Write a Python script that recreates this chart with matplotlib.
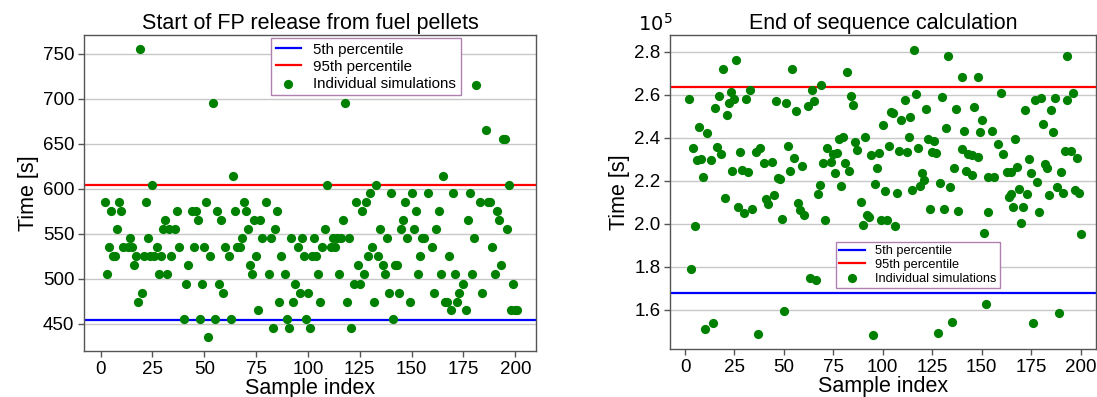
import matplotlib
matplotlib.use("Agg")
import matplotlib.pyplot as plt
from matplotlib.ticker import FuncFormatter, MultipleLocator

plt.rcParams['font.family'] = ['Liberation Sans', 'DejaVu Sans']

# ---------------- data: left panel (start of FP release, s) ----------------
fp_idx = [2, 3, 4, 5, 6, 7, 8, 9, 10, 11, 13, 14, 15, 16, 17, 18, 19, 20, 21, 22,
          23, 24, 25, 26, 27, 28, 29, 30, 31, 32, 33, 34, 36, 37, 38, 40, 41, 42, 44, 45,
          46, 47, 48, 49, 50, 51, 52, 53, 54, 55, 56, 57, 58, 59, 60, 62, 63, 64, 65, 66,
          67, 68, 69, 70, 71, 72, 73, 74, 75, 76, 77, 78, 80, 81, 82, 83, 84, 85, 86, 87,
          89, 90, 91, 92, 93, 94, 95, 96, 97, 98, 99, 100, 101, 102, 103, 104, 105, 106, 107, 108,
          109, 111, 112, 113, 114, 115, 116, 117, 118, 119, 120, 121, 122, 123, 124, 125, 126, 127, 128, 129,
          130, 131, 132, 133, 134, 135, 136, 137, 138, 139, 140, 141, 142, 143, 144, 145, 146, 147, 148, 149,
          150, 151, 152, 153, 154, 155, 156, 158, 160, 161, 162, 163, 164, 165, 166, 167, 168, 169, 170, 171,
          172, 173, 175, 176, 177, 178, 179, 180, 181, 183, 184, 186, 187, 188, 189, 190, 191, 192, 193, 194,
          195, 196, 197, 198, 199, 200, 201]
fp_time = [585, 505, 535, 575, 525, 525, 555, 585, 575, 535, 535, 545, 535, 515, 525, 474, 755, 484, 525, 585,
           545, 525, 604, 525, 535, 505, 525, 555, 565, 505, 555, 525, 555, 575, 535, 455, 494, 515, 575, 535,
           575, 565, 455, 494, 535, 585, 435, 525, 695, 455, 575, 494, 565, 484, 535, 525, 455, 614, 575, 535,
           535, 545, 585, 575, 555, 515, 505, 565, 525, 465, 565, 545, 585, 505, 545, 445, 555, 575, 474, 525,
           505, 455, 445, 545, 474, 494, 535, 484, 545, 525, 455, 484, 445, 525, 545, 525, 505, 474, 535, 555,
           604, 535, 545, 535, 545, 505, 545, 565, 695, 474, 545, 445, 494, 585, 515, 494, 575, 505, 585, 525,
           595, 535, 474, 604, 525, 555, 515, 505, 545, 484, 595, 455, 515, 515, 484, 555, 565, 585, 545, 474,
           595, 555, 575, 505, 525, 545, 545, 595, 535, 484, 555, 575, 505, 614, 474, 474, 525, 465, 595, 505,
           474, 484, 494, 465, 565, 595, 505, 545, 715, 585, 484, 665, 585, 585, 535, 505, 575, 565, 515, 655,
           655, 555, 604, 465, 494, 465, 465]
fp_p5 = 454.5
fp_p95 = 604.5

# ---------------- data: right panel (end of sequence calculation, s) ----------------
end_idx = [2, 3, 4, 5, 6, 7, 8, 9, 10, 11, 13, 14, 15, 16, 17, 18, 19, 20, 21, 22,
           23, 24, 25, 26, 27, 28, 29, 30, 31, 32, 33, 34, 36, 37, 38, 40, 41, 42, 44, 45,
           46, 47, 48, 49, 50, 51, 52, 53, 54, 55, 56, 57, 58, 59, 60, 62, 63, 64, 65, 66,
           67, 68, 69, 70, 71, 72, 74, 75, 76, 77, 78, 79, 80, 81, 82, 83, 84, 85, 86, 87,
           89, 90, 91, 92, 93, 94, 95, 96, 97, 98, 99, 100, 101, 102, 103, 104, 105, 106, 107, 108,
           109, 111, 112, 113, 114, 115, 116, 117, 118, 119, 120, 121, 122, 123, 124, 125, 126, 127, 128, 129,
           130, 131, 132, 133, 134, 135, 136, 137, 138, 140, 140, 141, 142, 143, 145, 145, 146, 148, 148, 149,
           150, 151, 152, 153, 153, 155, 156, 158, 160, 161, 163, 164, 165, 165, 166, 167, 168, 169, 170, 171,
           172, 173, 174, 175, 176, 177, 178, 179, 180, 181, 182, 183, 184, 185, 186, 187, 188, 189, 190, 191,
           192, 193, 193, 195, 196, 197, 198, 199, 200]
end_time = [2.580, 1.792, 2.351, 1.992, 2.296, 2.452, 2.300, 2.218, 1.510, 2.421, 2.296, 1.538, 2.539, 2.359, 2.596, 2.325, 2.720, 2.122, 2.507, 2.562,
            2.613, 2.246, 2.580, 2.761, 2.080, 2.333, 2.251, 2.052, 2.580, 2.243, 2.624, 2.068, 2.336, 1.487, 2.354, 2.284, 2.114, 2.093, 2.289, 2.136,
            2.572, 2.215, 2.209, 2.022, 1.597, 2.562, 2.362, 2.246, 2.720, 2.308, 2.525, 2.096, 2.065, 2.269, 2.040, 2.549, 1.749, 2.622, 2.572, 1.741,
            2.140, 2.181, 2.645, 2.282, 2.018, 2.351, 2.289, 2.326, 2.235, 2.331, 2.393, 2.176, 2.405, 2.284, 2.704, 2.246, 2.594, 2.552, 2.379, 2.343,
            2.103, 1.996, 2.402, 2.040, 2.034, 2.320, 1.485, 2.184, 2.261, 2.331, 2.019, 2.460, 2.154, 2.017, 2.363, 2.521, 2.517, 1.992, 2.142, 2.339,
            2.481, 2.576, 2.336, 2.405, 2.495, 2.158, 2.808, 2.605, 2.353, 2.176, 2.238, 2.204, 2.534, 2.394, 2.071, 2.333, 2.387, 2.328, 1.495, 2.190,
            2.591, 2.071, 2.444, 2.779, 2.172, 1.546, 2.261, 2.534, 2.060, 2.348, 2.683, 2.433, 2.247, 2.325, 2.319, 2.227, 2.545, 2.311, 2.683, 2.426,
            2.481, 1.957, 1.626, 2.218, 2.055, 2.430, 2.218, 2.371, 2.607, 2.325, 2.243, 2.127, 2.243, 2.139, 2.080, 2.394, 2.263, 2.162, 2.003, 2.080,
            2.531, 2.138, 2.303, 2.235, 1.541, 2.576, 2.196, 2.055, 2.584, 2.463, 2.277, 2.261, 2.133, 2.531, 2.426, 2.584, 2.172, 1.585, 2.240, 2.145,
            2.340, 2.576, 2.779, 2.337, 2.608, 2.158, 2.308, 2.145, 1.955]
end_time = [v * 1e5 for v in end_time]
end_p5 = 1.680e5
end_p95 = 2.634e5

labels = ['5th percentile', '95th percentile', 'Individual simulations']
green = '#008000'
spine_col = '#555555'

fig = plt.figure(figsize=(10.97, 3.97), dpi=100)
ax1 = fig.add_axes([84 / 1097, 1 - 351 / 397, 452 / 1097, 316 / 397])
ax2 = fig.add_axes([670 / 1097, 1 - 349.3 / 397, 426 / 1097, 314.3 / 397])


def style(ax):
    ax.yaxis.grid(True, color='#c8c8c8', linewidth=1.0)
    ax.set_axisbelow(True)
    for s in ax.spines.values():
        s.set_color(spine_col)
        s.set_linewidth(1.0)
    ax.tick_params(labelsize=13.5, colors='black', length=4, width=1, color=spine_col, pad=3)
    ax.xaxis.set_major_locator(MultipleLocator(25))


# left panel
ax1.axhline(fp_p5, color='#0000ff', lw=1.6, label=labels[0], zorder=2)
ax1.axhline(fp_p95, color='#ff0000', lw=1.6, label=labels[1], zorder=2)
ax1.scatter(fp_idx, fp_time, s=44, color=green, label=labels[2], zorder=3, linewidths=0)
ax1.set_xlim(-8, 210)
ax1.set_ylim(420, 771)
ax1.yaxis.set_major_locator(MultipleLocator(50))
style(ax1)
ax1.set_title('Start of FP release from fuel pellets', fontsize=15.5, pad=4)
ax1.set_xlabel('Sample index', fontsize=15.5, labelpad=0)
ax1.set_ylabel('Time [s]', fontsize=15.5, labelpad=3)
leg1 = ax1.legend(loc='upper left', bbox_to_anchor=(0.414, 0.99), borderaxespad=0,
                  fontsize=10.8, fancybox=False, framealpha=1, edgecolor='#b080b0',
                  handlelength=1.7, labelspacing=0.2, borderpad=0.3, handletextpad=0.8)
leg1.get_frame().set_linewidth(1.0)

# right panel
ax2.axhline(end_p5, color='#0000ff', lw=1.6, label=labels[0], zorder=2)
ax2.axhline(end_p95, color='#ff0000', lw=1.6, label=labels[1], zorder=2)
ax2.scatter(end_idx, end_time, s=44, color=green, label=labels[2], zorder=3, linewidths=0)
ax2.set_xlim(-7.6, 207.8)
ax2.set_ylim(1.417e5, 2.878e5)
ax2.yaxis.set_major_locator(MultipleLocator(0.2e5))
ax2.yaxis.set_major_formatter(FuncFormatter(lambda v, p: f'{v / 1e5:.1f}'))
style(ax2)
ax2.set_title('End of sequence calculation', fontsize=15.5, pad=4)
ax2.set_xlabel('Sample index', fontsize=15.5, labelpad=0)
ax2.set_ylabel('Time [s]', fontsize=15.5, labelpad=3)
ax2.text(-0.075, 1.0, r'$10^5$', transform=ax2.transAxes, fontsize=14,
         ha='left', va='bottom')
leg2 = ax2.legend(loc='upper left', bbox_to_anchor=(0.39, 0.342), borderaxespad=0,
                  fontsize=9.2, fancybox=False, framealpha=1, edgecolor='#b080b0',
                  handlelength=2.0, labelspacing=0.15, borderpad=0.25, handletextpad=0.8)
leg2.get_frame().set_linewidth(1.0)

fig.savefig('out.png', dpi=100)
